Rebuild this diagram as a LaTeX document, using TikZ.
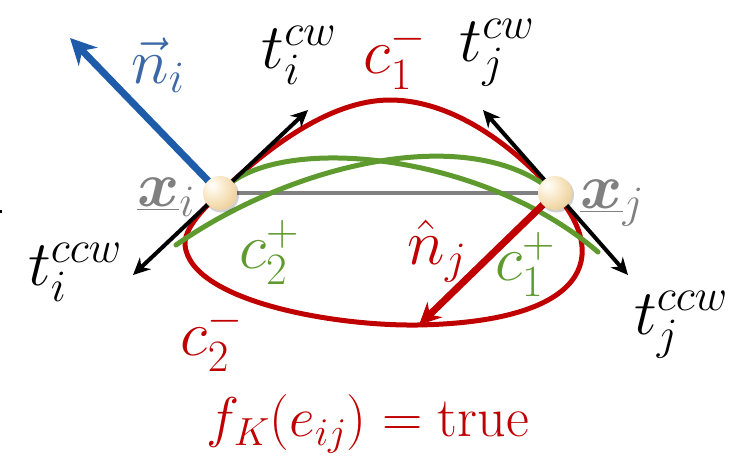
\RequirePackage{fix-cm}
\documentclass[tikz,border=0pt]{standalone}
\usepackage{amsmath,bm}
\usetikzlibrary{arrows.meta,calc}
\definecolor{cred}{RGB}{192,0,0}
\definecolor{cgreen}{RGB}{94,154,46}
\definecolor{cblue}{RGB}{30,92,170}
\definecolor{lblue}{RGB}{60,105,165}
\definecolor{cgray}{RGB}{128,128,128}
\definecolor{ballhi}{RGB}{253,245,228}
\definecolor{ballmid}{RGB}{243,218,172}
\definecolor{ballout}{RGB}{226,192,138}
\definecolor{ballrim}{RGB}{176,140,90}
\pgfdeclareradialshading{creamball}{\pgfpoint{-12bp}{12bp}}{%
  color(0bp)=(white); color(8bp)=(ballhi); color(28bp)=(ballmid);
  color(46bp)=(ballout); color(64bp)=(ballrim); color(100bp)=(ballrim)}
\begin{document}
\begin{tikzpicture}[x=1pt,y=-1pt,
  big/.style={font=\fontsize{64}{70}\selectfont, inner sep=0pt},
  redc/.style={draw=cred, line width=5pt},
  greenc/.style={draw=cgreen, line width=5pt, line cap=round},
  tang/.style={draw=black, line width=4pt, {Stealth[length=17pt,width=16pt]}-{Stealth[length=17pt,width=16pt]}},
  ptball/.style={circle, minimum size=34pt, inner sep=0pt, shading=creamball}
]
\useasboundingbox (0,0) rectangle (741,459);
\fill[white] (0,0) rectangle (741,459);
\fill[black] (0,210) rectangle (2,213);

\coordinate (xi) at (220,193);
\coordinate (xj) at (555,193);
\coordinate (ticw) at (308,110);
\coordinate (ticcw) at (133,275);
\coordinate (tjcw) at (483,110);
\coordinate (tjccw) at (628,275);
\coordinate (nitip) at (70,38);
\coordinate (njtip) at (419,325);
\coordinate (g1end) at (598,252);
\coordinate (g2start) at (176,245);

% base segment
\draw[cgray, line width=4pt] (xi) -- (xj);

% red closed curve
\draw[redc] (xi) .. controls (267,148) and (330,100) .. (390,100)
  .. controls (450,100) and (510,142) .. (xj)
  .. controls (610,255) and (590,322) .. (417,325)
  .. controls (330,326) and (190,300) .. (185,245)
  .. controls (184,228) and (204,208) .. (xi);

% green curves
\draw[greenc] (xi) .. controls (270,132) and (480,150) .. (g1end);
\draw[greenc] (g2start) .. controls (290,165) and (470,120) .. (xj);

% tangents
\draw[tang] (ticcw) -- (ticw);
\draw[tang] (tjccw) -- (tjcw);

% normals
\draw[cblue, line width=7pt, -{Stealth[length=26pt,width=26pt]}] (xi) -- (nitip);
\draw[cred, line width=7pt, -{Stealth[length=22pt,width=21pt]}] (xj) -- (njtip);

% points
\fill[black, opacity=0.18] ($(xi)+(1.5,2)$) circle (17.5pt);
\fill[black, opacity=0.18] ($(xj)+(1.5,2)$) circle (17.5pt);
\node[ptball] (bi) at (xi) {};
\node[ptball] (bj) at (xj) {};

% labels
\node[big, text=lblue] (lni) at (158,65) {$\vec{n}_i$};
\node[big] (lticw) at (299,55) {$t_i^{cw}$};
\node[big, text=cred] (lc1m) at (395,57) {$c_1^-$};
\node[big] (ltjcw) at (497,53) {$t_j^{cw}$};
\node[big, text=cgray] (lxi) at (166,197) {$\underline{\bm{x}}_i$};
\node[big, text=cgray] (lxj) at (612,203) {$\underline{\bm{x}}_j$};
\node[big] (lticcw) at (75,272) {$t_i^{ccw}$};
\node[big, text=cgreen] (lc2p) at (269,252) {$c_2^+$};
\node[big, text=cred] (lnj) at (437,251) {$\hat{n}_j$};
\node[big, text=cgreen] (lc1p) at (525,264) {$c_1^+$};
\node[big, text=cred] (lc2m) at (212,339) {$c_2^-$};
\node[big] (ltjccw) at (681,325) {$t_j^{ccw}$};
\node[big, text=cred, font=\fontsize{56}{60}\selectfont] (lf) at (368,424) {$f_K(e_{ij}) = \mathrm{true}$};
\end{tikzpicture}
\end{document}
